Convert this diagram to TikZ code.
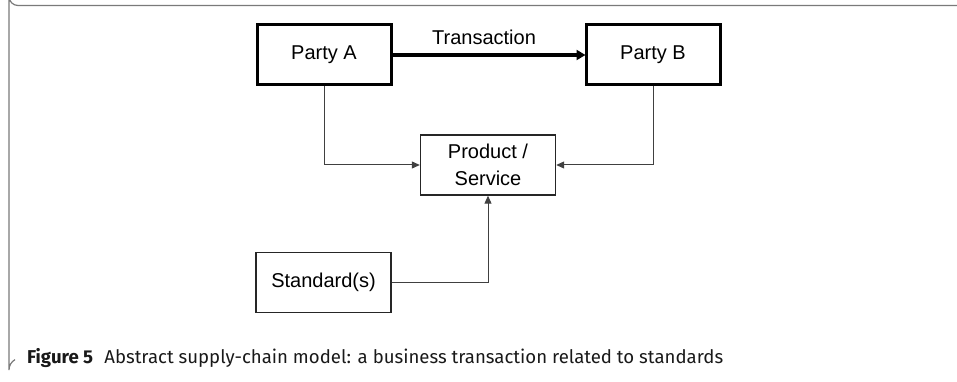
\documentclass[tikz,border=0pt]{standalone}
\usepackage{fontspec}
\setmainfont{Liberation Sans}
\newfontfamily\capfont{Fira Sans}
\usetikzlibrary{arrows.meta}
\definecolor{framegray}{HTML}{7A7A7A}
\definecolor{linegray}{HTML}{404040}
\tikzset{
  thickbox/.style={draw=black, line width=3pt, minimum width=134pt, minimum height=60pt, inner sep=0pt, font=\fontsize{20}{24}\selectfont},
  thinbox/.style={draw=black!85, line width=1.4pt, minimum width=135pt, minimum height=60pt, inner sep=0pt, font=\fontsize{20}{27}\selectfont, align=center},
  conn/.style={draw=linegray, line width=1pt, -{Triangle[length=8pt,width=7pt]}},
  bigarrow/.style={draw=black, line width=3.2pt, -{Triangle[length=9pt,width=10pt]}, shorten >=-1pt}
}
\begin{document}
\begin{tikzpicture}[x=1pt,y=-1pt]
\useasboundingbox (0,0) rectangle (957,382);
% frame
\draw[framegray, line width=1.2pt] (965,5.5) -- (18,5.5) arc[start angle=90, end angle=180, radius=9] -- (9,370) arc[start angle=180, end angle=240, radius=12];
% nodes
\node[thickbox] (A) at (324,55) {Party A};
\node[thickbox] (B) at (653,55) {Party B};
\node[thinbox] (P) at (488,165) {Product /\\Service};
\node[thinbox] (S) at (323.5,282.5) {Standard(s)};
\node[font=\fontsize{20}{24}\selectfont, inner sep=0pt] (T) at (484,37) {Transaction};
% connectors
\draw[bigarrow] (A.east) -- (B.west);
\draw[conn] (A.south) |- (P.west);
\draw[conn] (B.south) |- (P.east);
\draw[conn] (S.east) -| (P.south);
% caption
\node[anchor=base west, inner sep=0pt, text=black!90] (C) at (27,363) {\capfont\fontsize{18.6}{22}\selectfont\textbf{Figure 5}\hspace{0.6em}Abstract supply-chain model: a business transaction related to standards};
\end{tikzpicture}
\end{document}
